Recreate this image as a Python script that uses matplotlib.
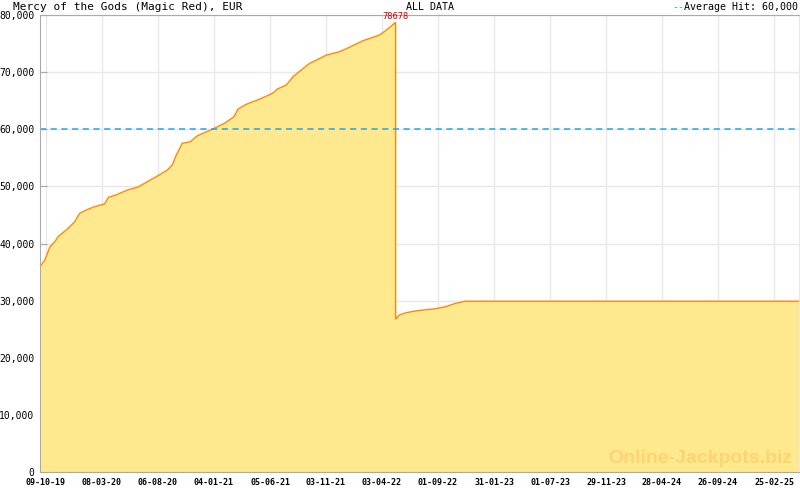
import numpy as np
import pandas as pd
import matplotlib
matplotlib.use("Agg")
import matplotlib.pyplot as plt

# values
dates = [
    "2019-09-23", "2019-09-26", "2019-10-06", "2019-10-20", "2019-11-02", "2019-11-11",
    "2019-12-08", "2019-12-26", "2020-01-08", "2020-01-26", "2020-02-17", "2020-03-15",
    "2020-03-26", "2020-04-15", "2020-05-16", "2020-06-12", "2020-07-09", "2020-08-05",
    "2020-09-01", "2020-09-14", "2020-09-23", "2020-10-11", "2020-11-02", "2020-11-20",
    "2020-12-27", "2021-02-02", "2021-02-28", "2021-03-10", "2021-04-02", "2021-05-07",
    "2021-06-12", "2021-06-25", "2021-07-19", "2021-08-06", "2021-08-23", "2021-09-20",
    "2021-10-13", "2021-11-04", "2021-12-10", "2022-01-05", "2022-02-11", "2022-03-28",
    "2022-04-15", "2022-05-07", "2022-05-10", "2022-05-11", "2022-05-20", "2022-06-07",
    "2022-07-08", "2022-08-27", "2022-09-22", "2022-10-19", "2022-11-15", "2025-05-03",
]
jackpot = [
    36000, 36200, 37100, 39440, 40300, 41200,
    42660, 43820, 45280, 45860, 46440, 46910,
    48090, 48490, 49360, 49840, 50820, 51820,
    52870, 53740, 55200, 57540, 57820, 58820,
    59870, 61040, 62200, 63490, 64370, 65240,
    66290, 67040, 67740, 69200, 70080, 71540,
    72240, 72990, 73570, 74340, 75500, 76500,
    77370, 78540, 78678, 26800, 27480, 27890,
    28240, 28590, 28940, 29530, 29900, 29900,
]
tick_dates = ["2019-10-09", "2020-03-08", "2020-08-06", "2021-01-04", "2021-06-05",
              "2021-11-03", "2022-04-03", "2022-09-01", "2023-01-31", "2023-07-01",
              "2023-11-29", "2024-04-28", "2024-09-26", "2025-02-25"]
average_hit = 60000
peak_value = 78678

df = pd.DataFrame({"date": pd.to_datetime(dates), "value": jackpot})
ticks = pd.to_datetime(tick_dates)

fig = plt.figure(figsize=(8, 4.9), dpi=100)
ax = fig.add_axes([0.05, 0.0367, 0.9488, 0.9327])

# the drop happens on a single day, so make it vertical
x = list(df["date"])
y = list(df["value"])
i = int(np.argmax(y))
x.insert(i + 1, x[i])
y.insert(i + 1, y[i + 1])

ax.fill_between(x, y, 0, color="#ffe98f", lw=0)
ax.plot(x, y, color="#ff8800", lw=1)
ax.axhline(average_hit, color="#22a5e6", lw=1.1, ls=(0, (4, 3)))

peak_date = df.loc[df["value"].idxmax(), "date"]
ax.text(peak_date, peak_value + 300, f"{peak_value}", color="#cc0000",
        family="DejaVu Sans Mono", fontsize=6.3, ha="center", va="bottom")

ax.set_xlim(df["date"].iloc[0], df["date"].iloc[-1])
ax.set_ylim(0, 80000)
ax.set_yticks(np.arange(0, 80001, 10000))
ax.set_yticklabels([f"{v:,}" for v in range(0, 80001, 10000)])
ax.set_xticks(ticks)
ax.set_xticklabels([t.strftime("%d-%m-%y") for t in ticks])
step = (ticks[1] - ticks[0]) / 7
minor = []
for a, b in zip(ticks[:-1], ticks[1:]):
    minor += list(pd.date_range(a, b, periods=8)[1:-1])
minor += [ticks[-1] + step * k for k in range(1, 4)]
ax.set_xticks(minor, minor=True)

ax.grid(True, which="major", color="#e8e8e8", lw=1)
ax.set_axisbelow(True)
for s in ["left", "bottom", "top"]:
    ax.spines[s].set_color("#aaaaaa")
ax.spines["right"].set_color("#e8e8e8")
ax.tick_params(axis="y", direction="in", length=5, color="#aaaaaa", pad=4,
               labelsize=7, labelfontfamily="DejaVu Sans Mono")
ax.tick_params(axis="x", which="major", direction="in", length=5, color="#a8a8b8",
               pad=4, labelsize=6, labelfontfamily="DejaVu Sans Mono")
ax.tick_params(axis="x", which="minor", direction="in", length=2.5, color="#a8a8b8")
for lbl in ax.get_xticklabels():
    lbl.set_fontweight("bold")

top = 1 - 7 / 490
fig.text(13 / 800, top, "Mercy of the Gods (Magic Red), EUR", family="DejaVu Sans Mono",
         fontsize=8, ha="left", va="center")
fig.text(430 / 800, top, "ALL DATA", family="DejaVu Sans Mono",
         fontsize=7.2, ha="center", va="center")
fig.text(798 / 800, top, "Average Hit: 60,000", family="DejaVu Sans Mono",
         fontsize=7.2, ha="right", va="center")
fig.text(684 / 800, top, "--", family="DejaVu Sans Mono", color="#22a5e6",
         fontsize=7.2, ha="right", va="center")
fig.text(700 / 800, 1 - 458 / 490, "Online-Jackpots.biz", family="Liberation Sans",
         fontweight="bold", fontsize=14, color="#ffd470", ha="center", va="center")

fig.savefig("out.png", dpi=100)
